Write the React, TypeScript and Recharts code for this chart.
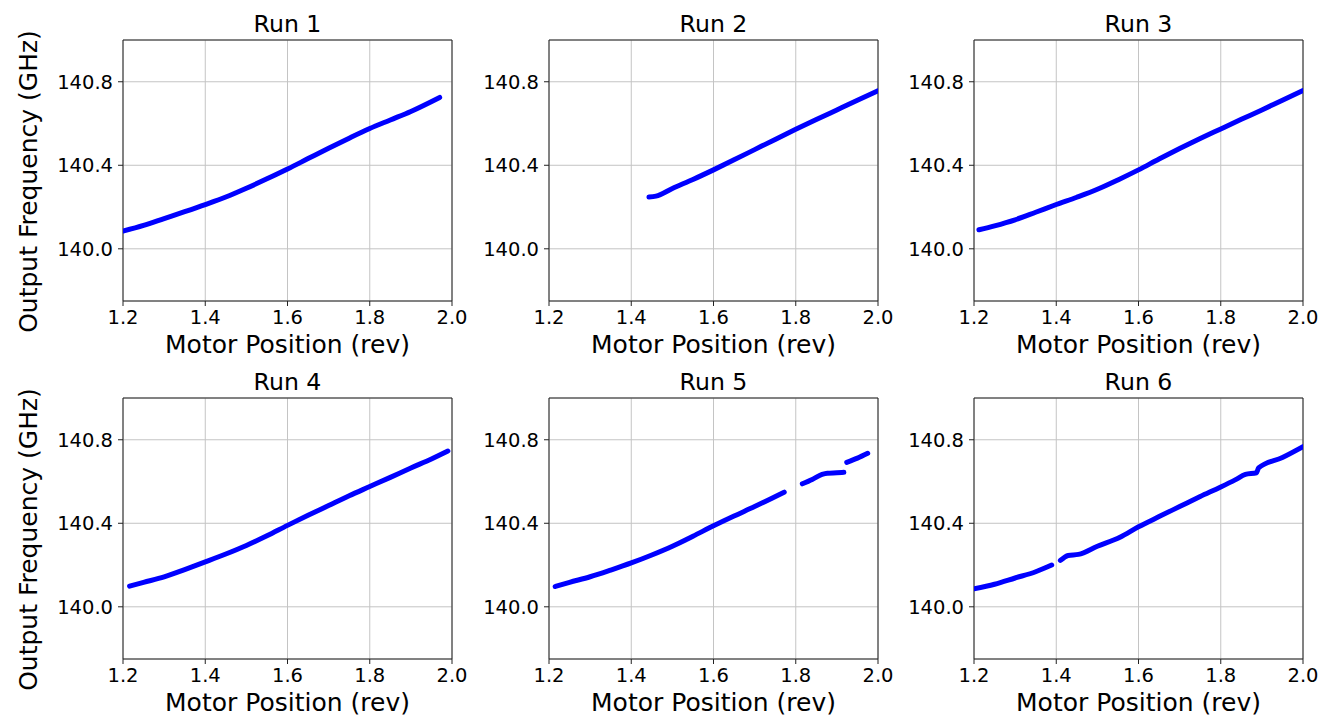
import React from 'react';
import { LineChart, Line, XAxis, YAxis, CartesianGrid, ReferenceArea } from 'recharts';

const runTitles = ['Run 1', 'Run 2', 'Run 3', 'Run 4', 'Run 5', 'Run 6'];
const xTicks = [1.2, 1.4, 1.6, 1.8, 2.0];
const yTicks = [140.0, 140.4, 140.8];
const xLabel = 'Motor Position (rev)';
const yLabel = 'Output Frequency (GHz)';

const run1Pos = [1.2, 1.25, 1.3, 1.35, 1.4, 1.45, 1.5, 1.55, 1.6, 1.65, 1.7, 1.75, 1.8, 1.85, 1.9, 1.97];
const run1Freq = [140.085, 140.112, 140.145, 140.178, 140.212, 140.248, 140.29, 140.335, 140.382, 140.432, 140.482, 140.53, 140.576, 140.617, 140.658, 140.725];

const run2Pos = [1.443, 1.46, 1.5, 1.55, 1.6, 1.65, 1.7, 1.75, 1.8, 1.85, 1.9, 1.95, 2.0];
const run2Freq = [140.248, 140.252, 140.289, 140.332, 140.378, 140.426, 140.475, 140.524, 140.572, 140.619, 140.665, 140.711, 140.757];

const run3Pos = [1.212, 1.25, 1.3, 1.35, 1.4, 1.45, 1.5, 1.55, 1.6, 1.65, 1.7, 1.75, 1.8, 1.85, 1.9, 1.95, 2.0];
const run3Freq = [140.091, 140.11, 140.139, 140.175, 140.212, 140.247, 140.285, 140.33, 140.378, 140.43, 140.48, 140.528, 140.574, 140.62, 140.665, 140.712, 140.758];

const run4Pos = [1.216, 1.25, 1.3, 1.35, 1.4, 1.45, 1.5, 1.55, 1.6, 1.65, 1.7, 1.75, 1.8, 1.85, 1.9, 1.95, 1.99];
const run4Freq = [140.099, 140.117, 140.143, 140.178, 140.215, 140.253, 140.294, 140.34, 140.39, 140.438, 140.485, 140.532, 140.576, 140.62, 140.665, 140.708, 140.746];

const run5Pos = [1.215, 1.25, 1.3, 1.35, 1.4, 1.45, 1.5, 1.55, 1.6, 1.65, 1.7, 1.772, 1.795, 1.816, 1.84, 1.864, 1.877, 1.9, 1.917, 1.92, 1.924, 1.95, 1.975];
const run5Freq = [140.097, 140.117, 140.144, 140.176, 140.21, 140.248, 140.29, 140.338, 140.388, 140.435, 140.48, 140.549, null, 140.589, 140.61, 140.634, 140.64, 140.642, 140.644, null, 140.692, 140.712, 140.735];

const run6Pos = [1.2, 1.25, 1.3, 1.35, 1.389, 1.399, 1.41, 1.429, 1.454, 1.5, 1.555, 1.6, 1.65, 1.7, 1.75, 1.8, 1.835, 1.86, 1.887, 1.892, 1.95, 2.0];
const run6Freq = [140.086, 140.108, 140.138, 140.168, 140.2, null, 140.222, 140.246, 140.251, 140.29, 140.333, 140.383, 140.432, 140.48, 140.528, 140.574, 140.608, 140.634, 140.642, 140.665, 140.715, 140.767];

const runsPos = [run1Pos, run2Pos, run3Pos, run4Pos, run5Pos, run6Pos];
const runsFreq = [run1Freq, run2Freq, run3Freq, run4Freq, run5Freq, run6Freq];

const colLefts = [123, 549, 974];
const rowTops = [40, 398];
const plotW = 329;
const plotH = 261;
const yAxisW = 75;
const xAxisH = 40;
const mTop = 10;
const mRight = 15;

const FONT = "'DejaVu Sans', sans-serif";
const tickStyle = { fontFamily: FONT, fontSize: 19.5, fill: '#000' };

function Panel({ pos, freq, left, top }: { pos: number[]; freq: (number | null)[]; left: number; top: number }) {
  const data = pos.map((p, i) => ({ p, f: freq[i] }));
  return (
    <div style={{ position: 'absolute', left: left - yAxisW, top: top - mTop }}>
      <LineChart
        width={yAxisW + plotW + mRight}
        height={mTop + plotH + xAxisH}
        data={data}
        margin={{ top: mTop, right: mRight, left: 0, bottom: 0 }}
      >
        <CartesianGrid stroke="#c4c4c4" strokeWidth={1} />
        <XAxis
          dataKey="p"
          type="number"
          domain={[1.2, 2.0]}
          ticks={xTicks}
          tickFormatter={(v: number) => v.toFixed(1)}
          allowDataOverflow
          height={xAxisH}
          axisLine={false}
          tickLine={{ stroke: '#222', strokeWidth: 1 }}
          tickSize={5}
          tickMargin={4}
          tick={tickStyle}
          interval={0}
        />
        <YAxis
          type="number"
          domain={[139.75, 141.0]}
          ticks={yTicks}
          tickFormatter={(v: number) => v.toFixed(1)}
          allowDataOverflow
          width={yAxisW}
          axisLine={false}
          tickLine={{ stroke: '#222', strokeWidth: 1 }}
          tickSize={5}
          tickMargin={5}
          tick={tickStyle}
          interval={0}
        />
        <Line
          dataKey="f"
          type="monotone"
          stroke="#0000ff"
          strokeWidth={5}
          strokeLinecap="round"
          strokeLinejoin="round"
          dot={false}
          connectNulls={false}
          isAnimationActive={false}
        />
        <ReferenceArea x1={1.2} x2={2.0} y1={139.75} y2={141.0} fill="none" stroke="#222" strokeWidth={1} ifOverflow="visible" />
      </LineChart>
    </div>
  );
}

export default function App() {
  const panels = [];
  for (let r = 0; r < 2; r++) {
    for (let c = 0; c < 3; c++) {
      const i = r * 3 + c;
      panels.push(
        <Panel key={i} pos={runsPos[i]} freq={runsFreq[i]} left={colLefts[c]} top={rowTops[r]} />
      );
    }
  }
  const texts = [];
  for (let r = 0; r < 2; r++) {
    for (let c = 0; c < 3; c++) {
      const i = r * 3 + c;
      const cx = colLefts[c] + plotW / 2;
      texts.push(
        <text key={'t' + i} x={cx} y={rowTops[r] - 7.7} textAnchor="middle" fontFamily={FONT} fontSize={23.6} fill="#000">
          {runTitles[i]}
        </text>
      );
      texts.push(
        <text key={'x' + i} x={cx} y={rowTops[r] + plotH + 52} textAnchor="middle" fontFamily={FONT} fontSize={25} fill="#000">
          {xLabel}
        </text>
      );
    }
    const cy = rowTops[r] + plotH / 2 + 11;
    texts.push(
      <text key={'y' + r} x={36.5} y={cy} textAnchor="middle" fontFamily={FONT} fontSize={25} fill="#000" transform={`rotate(-90, 36.5, ${cy})`}>
        {yLabel}
      </text>
    );
  }
  return (
    <div style={{ position: 'absolute', left: 0, top: 0, width: 1330, height: 719, background: '#fff' }}>
      {panels}
      <svg width={1330} height={719} style={{ position: 'absolute', left: 0, top: 0, pointerEvents: 'none' }}>
        {texts}
      </svg>
    </div>
  );
}
